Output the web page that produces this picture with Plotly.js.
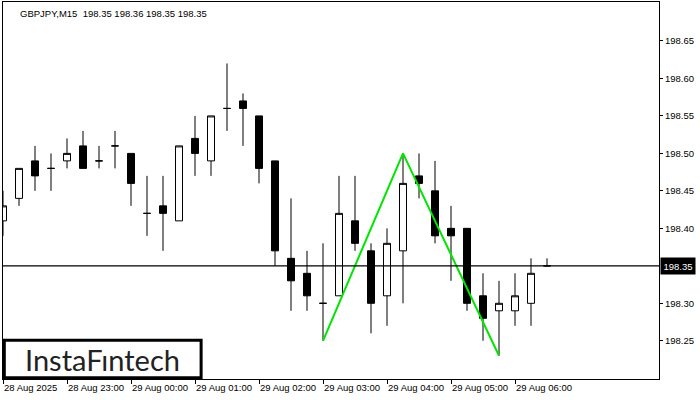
<!DOCTYPE html>
<html><head><meta charset="utf-8">
<script src="https://cdn.plot.ly/plotly-3.0.1.min.js"></script>
<style>html,body{margin:0;padding:0;background:#fff;}#chart{width:700px;height:400px;}</style>
</head><body><div id="chart"></div>
<script>
const times = [
 "2025-08-28 22:00","2025-08-28 22:15","2025-08-28 22:30","2025-08-28 22:45",
 "2025-08-28 23:00","2025-08-28 23:15","2025-08-28 23:30","2025-08-28 23:45",
 "2025-08-29 00:00","2025-08-29 00:15","2025-08-29 00:30","2025-08-29 00:45",
 "2025-08-29 01:00","2025-08-29 01:15","2025-08-29 01:30","2025-08-29 01:45",
 "2025-08-29 02:00","2025-08-29 02:15","2025-08-29 02:30","2025-08-29 02:45",
 "2025-08-29 03:00","2025-08-29 03:15","2025-08-29 03:30","2025-08-29 03:45",
 "2025-08-29 04:00","2025-08-29 04:15","2025-08-29 04:30","2025-08-29 04:45",
 "2025-08-29 05:00","2025-08-29 05:15","2025-08-29 05:30","2025-08-29 05:45",
 "2025-08-29 06:00","2025-08-29 06:15","2025-08-29 06:30"
];
const openP  = [198.41,198.44,198.49,198.48,198.49,198.51,198.49,198.51,198.50,198.42,198.43,198.41,198.52,198.49,198.56,198.57,198.55,198.49,198.36,198.34,198.30,198.31,198.41,198.37,198.31,198.37,198.47,198.45,198.40,198.40,198.31,198.29,198.29,198.30,198.35];
const highP  = [198.45,198.48,198.51,198.50,198.52,198.53,198.51,198.53,198.50,198.47,198.47,198.51,198.55,198.55,198.62,198.58,198.55,198.49,198.44,198.37,198.38,198.47,198.47,198.38,198.40,198.50,198.50,198.49,198.43,198.40,198.34,198.33,198.34,198.36,198.36];
const lowP   = [198.39,198.43,198.45,198.45,198.48,198.48,198.48,198.48,198.43,198.39,198.37,198.41,198.47,198.47,198.53,198.51,198.46,198.35,198.29,198.29,198.25,198.31,198.37,198.26,198.27,198.30,198.44,198.38,198.33,198.29,198.25,198.23,198.27,198.27,198.35];
const closeP = [198.43,198.48,198.47,198.48,198.50,198.48,198.49,198.51,198.46,198.42,198.42,198.51,198.50,198.55,198.56,198.56,198.48,198.37,198.33,198.31,198.30,198.42,198.38,198.30,198.38,198.46,198.46,198.39,198.39,198.30,198.28,198.30,198.31,198.34,198.35];

const patternIdx = [20, 25, 31];
const patternY = [198.25, 198.50, 198.23];

const xTickVals = ["2025-08-28 22:00","2025-08-28 23:00","2025-08-29 00:00","2025-08-29 01:00","2025-08-29 02:00","2025-08-29 03:00","2025-08-29 04:00","2025-08-29 05:00","2025-08-29 06:00"];
const xTickText = ["28 Aug 2025","28 Aug 23:00","29 Aug 00:00","29 Aug 01:00","29 Aug 02:00","29 Aug 03:00","29 Aug 04:00","29 Aug 05:00","29 Aug 06:00"];
const yTickVals = [198.25,198.30,198.40,198.45,198.50,198.55,198.60,198.65];
const lastPrice = 198.35;
const titleText = "GBPJPY,M15  198.35 198.36 198.35 198.35";
const logoText = "InstaFıntech";

const F = "Liberation Sans, Arial, sans-serif";

const traces = [
  {
    type: "candlestick",
    x: times, open: openP, high: highP, low: lowP, close: closeP,
    increasing: {line: {color: "#000", width: 1}, fillcolor: "#fff"},
    decreasing: {line: {color: "#000", width: 1}, fillcolor: "#000"},
    whiskerwidth: 0,
    hoverinfo: "skip",
    showlegend: false
  },
  {
    type: "scatter", mode: "lines",
    x: patternIdx.map(i => times[i]), y: patternY,
    line: {color: "#00e600", width: 2},
    hoverinfo: "skip", showlegend: false
  }
];

const layout = {
  width: 700, height: 400,
  margin: {l: 3, r: 41, t: 2, b: 21},
  paper_bgcolor: "#fff", plot_bgcolor: "#fff",
  showlegend: false,
  boxgap: 0.375,
  xaxis: {
    type: "date",
    range: ["2025-08-28 22:00", "2025-08-29 08:15"],
    rangeslider: {visible: false},
    tickvals: xTickVals, ticktext: xTickText,
    tickangle: 0,
    ticks: "outside", ticklen: 4, tickcolor: "#000",
    ticklabelposition: "outside right",
    tickfont: {family: F, size: 9.5, color: "#000"},
    showgrid: false, zeroline: false,
    showline: true, linecolor: "#000", linewidth: 1, mirror: true,
    fixedrange: true
  },
  yaxis: {
    side: "right",
    range: [198.199, 198.702],
    tickvals: yTickVals, tickformat: ".2f",
    ticks: "outside", ticklen: 3, tickcolor: "#000",
    tickfont: {family: F, size: 9.5, color: "#000"},
    showgrid: false, zeroline: false,
    showline: true, linecolor: "#000", linewidth: 1, mirror: true,
    fixedrange: true
  },
  shapes: [
    {type: "line", xref: "paper", x0: 0, x1: 1, yref: "y", y0: lastPrice, y1: lastPrice,
     line: {color: "#000", width: 1.2}},
    {type: "rect", xref: "paper", yref: "paper", x0: 0.002, x1: 0.302, y0: 0.003, y1: 0.103,
     line: {color: "#000", width: 3}, fillcolor: "#fff"}
  ],
  annotations: [
    {xref: "paper", yref: "paper", x: 0.023, y: 0.99, xanchor: "left", yanchor: "top",
     text: titleText, showarrow: false, font: {family: F, size: 9.5, color: "#000"}},
    {xref: "paper", yref: "y", x: 1, y: lastPrice, xanchor: "left", yanchor: "middle", xshift: 1,
     text: lastPrice.toFixed(2), showarrow: false, bgcolor: "#000",
     font: {family: F, size: 9.5, color: "#fff"}, borderpad: 2.5},
    {xref: "paper", yref: "paper", x: 0.152, y: 0.053, xanchor: "center", yanchor: "middle",
     text: logoText, showarrow: false, font: {family: "Lato, Noto Sans, sans-serif", size: 29, color: "#222"}}
  ]
};

Plotly.newPlot("chart", traces, layout, {displayModeBar: false, staticPlot: true});
</script></body></html>
